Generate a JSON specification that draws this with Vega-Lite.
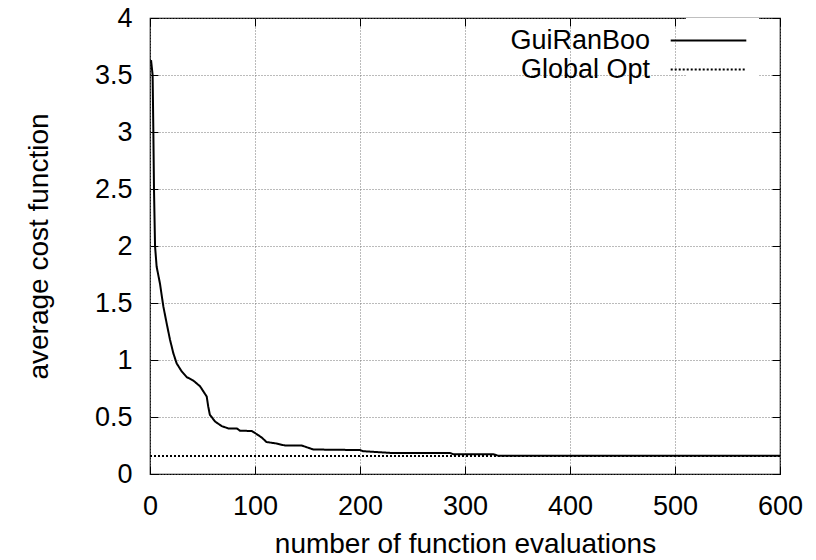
{
  "$schema": "https://vega.github.io/schema/vega-lite/v6.json",
  "width": 630,
  "height": 456,
  "autosize": {"type": "none"},
  "padding": {"left": 150, "top": 18, "right": 36, "bottom": 86},
  "background": "white",
  "config": {
    "font": "Liberation Sans",
    "view": {"stroke": "black", "strokeWidth": 1.2},
    "axis": {
      "labelFont": "Liberation Sans",
      "titleFont": "Liberation Sans",
      "labelFontSize": 27,
      "titleFontSize": 28,
      "titleFontWeight": "normal",
      "labelColor": "black",
      "titleColor": "black",
      "domain": false,
      "tickColor": "black",
      "tickSize": -8,
      "tickWidth": 1,
      "gridColor": "#777777",
      "gridDash": [1, 2],
      "gridWidth": 1,
      "labelFlush": false,
      "labelOverlap": false
    },
    "legend": {
      "labelFont": "Liberation Sans",
      "labelFontSize": 27,
      "labelColor": "black"
    }
  },
  "datasets": {
    "curve": [
      {"evals": 1, "cost": 3.63, "series": "GuiRanBoo"},
      {"evals": 2.5, "cost": 3.5, "series": "GuiRanBoo"},
      {"evals": 3.2, "cost": 3.0, "series": "GuiRanBoo"},
      {"evals": 3.8, "cost": 2.5, "series": "GuiRanBoo"},
      {"evals": 4.8, "cost": 2.0, "series": "GuiRanBoo"},
      {"evals": 6.3, "cost": 1.82, "series": "GuiRanBoo"},
      {"evals": 9.5, "cost": 1.67, "series": "GuiRanBoo"},
      {"evals": 12.7, "cost": 1.47, "series": "GuiRanBoo"},
      {"evals": 15.9, "cost": 1.32, "series": "GuiRanBoo"},
      {"evals": 19, "cost": 1.18, "series": "GuiRanBoo"},
      {"evals": 22.2, "cost": 1.06, "series": "GuiRanBoo"},
      {"evals": 25.4, "cost": 0.97, "series": "GuiRanBoo"},
      {"evals": 30.2, "cost": 0.9, "series": "GuiRanBoo"},
      {"evals": 35, "cost": 0.85, "series": "GuiRanBoo"},
      {"evals": 41.2, "cost": 0.82, "series": "GuiRanBoo"},
      {"evals": 47.6, "cost": 0.77, "series": "GuiRanBoo"},
      {"evals": 54, "cost": 0.68, "series": "GuiRanBoo"},
      {"evals": 55.5, "cost": 0.59, "series": "GuiRanBoo"},
      {"evals": 57, "cost": 0.52, "series": "GuiRanBoo"},
      {"evals": 62, "cost": 0.46, "series": "GuiRanBoo"},
      {"evals": 68.3, "cost": 0.42, "series": "GuiRanBoo"},
      {"evals": 74.6, "cost": 0.4, "series": "GuiRanBoo"},
      {"evals": 82.6, "cost": 0.4, "series": "GuiRanBoo"},
      {"evals": 85.7, "cost": 0.38, "series": "GuiRanBoo"},
      {"evals": 96.9, "cost": 0.377, "series": "GuiRanBoo"},
      {"evals": 101.6, "cost": 0.35, "series": "GuiRanBoo"},
      {"evals": 106.4, "cost": 0.32, "series": "GuiRanBoo"},
      {"evals": 111, "cost": 0.28, "series": "GuiRanBoo"},
      {"evals": 119, "cost": 0.27, "series": "GuiRanBoo"},
      {"evals": 128.6, "cost": 0.25, "series": "GuiRanBoo"},
      {"evals": 144.5, "cost": 0.25, "series": "GuiRanBoo"},
      {"evals": 155.5, "cost": 0.215, "series": "GuiRanBoo"},
      {"evals": 200, "cost": 0.21, "series": "GuiRanBoo"},
      {"evals": 203, "cost": 0.2, "series": "GuiRanBoo"},
      {"evals": 228.6, "cost": 0.185, "series": "GuiRanBoo"},
      {"evals": 285.7, "cost": 0.185, "series": "GuiRanBoo"},
      {"evals": 288.9, "cost": 0.173, "series": "GuiRanBoo"},
      {"evals": 327, "cost": 0.173, "series": "GuiRanBoo"},
      {"evals": 331.7, "cost": 0.16, "series": "GuiRanBoo"},
      {"evals": 600, "cost": 0.16, "series": "GuiRanBoo"}
    ],
    "opt": [
      {"evals": 0, "cost": 0.158, "series": "Global Opt"},
      {"evals": 600, "cost": 0.158, "series": "Global Opt"}
    ]
  },
  "layer": [
    {
      "data": {"name": "curve"},
      "mark": {"type": "line", "color": "black", "strokeWidth": 2},
      "encoding": {
        "x": {"field": "evals", "type": "quantitative", "scale": {"domain": [0, 600], "nice": false},
          "axis": {"orient": "bottom", "title": "number of function evaluations", "values": [0, 100, 200, 300, 400, 500, 600],
            "grid": true, "labelPadding": 27, "titleY": 78, "titleBaseline": "alphabetic"}},
        "y": {"field": "cost", "type": "quantitative", "scale": {"domain": [0, 4], "nice": false},
          "axis": {"orient": "left", "title": "average cost function", "values": [0, 0.5, 1, 1.5, 2, 2.5, 3, 3.5, 4],
            "format": "~g", "grid": true, "labelPadding": 26, "titleX": -103, "titleY": 228, "titleAngle": -90, "titleAlign": "center", "titleBaseline": "alphabetic"}},
        "strokeDash": {"field": "series", "type": "nominal",
          "scale": {"domain": ["GuiRanBoo", "Global Opt"], "range": [[1, 0], [2, 2]]},
          "legend": {"title": null, "orient": "none", "legendX": 536, "legendY": 0, "padding": 8,
            "symbolType": "M-2.8,0H2.8", "symbolSize": 729, "symbolStrokeWidth": 2, "symbolStrokeColor": "black", "symbolFillColor": "transparent",
            "labelAlign": "right", "labelOffset": -73, "rowPadding": 1, "fillColor": "white"}}
      }
    },
    {
      "data": {"name": "opt"},
      "mark": {"type": "line", "color": "black", "strokeWidth": 2},
      "encoding": {
        "x": {"field": "evals", "type": "quantitative", "scale": {"domain": [0, 600], "nice": false},
          "axis": {"orient": "top", "labels": false, "grid": false, "title": null, "values": [0, 100, 200, 300, 400, 500, 600]}},
        "y": {"field": "cost", "type": "quantitative", "scale": {"domain": [0, 4], "nice": false},
          "axis": {"orient": "right", "labels": false, "grid": false, "title": null, "values": [0, 0.5, 1, 1.5, 2, 2.5, 3, 3.5, 4]}},
        "strokeDash": {"field": "series", "type": "nominal",
          "scale": {"domain": ["GuiRanBoo", "Global Opt"], "range": [[1, 0], [2, 2]]}}
      }
    }
  ],
  "resolve": {"axis": {"x": "independent", "y": "independent"}}
}
